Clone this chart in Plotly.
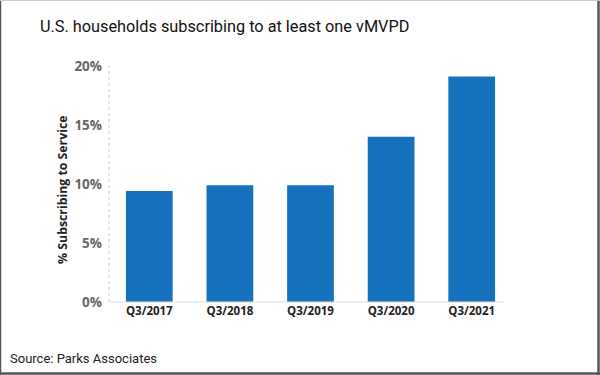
import plotly.graph_objects as go

categories = ["Q3/2017", "Q3/2018", "Q3/2019", "Q3/2020", "Q3/2021"]
values = [9.4, 9.9, 9.9, 14.0, 19.1]
y_ticks = [0, 5, 10, 15, 20]
y_tick_labels = ["0%", "5%", "10%", "15%", "20%"]

W, H = 600, 375
L, R, T, B = 109, 88, 66, 73
pw, ph = W - L - R, H - T - B

def px(x):
    return (x - L) / pw

def py(y):
    return (H - B - y) / ph

fig = go.Figure(go.Bar(x=categories, y=values, marker=dict(color="#1772BD", line=dict(width=0)),
                       hoverinfo="skip"))

fig.update_layout(
    width=W, height=H,
    margin=dict(l=L, r=R, t=T, b=B),
    plot_bgcolor="white", paper_bgcolor="white",
    bargap=0.42,
    showlegend=False,
    title=dict(text="U.S. households subscribing to at least one vMVPD",
               x=40 / W, xanchor="left", xref="container",
               y=1 - 26 / H, yanchor="middle", yref="container",
               font=dict(family="Roboto", size=16.3, color="#111")),
    xaxis=dict(showgrid=False, showline=False, ticks="", zeroline=False,
               tickfont=dict(family="Open Sans", size=11.5, color="#222", weight="bold"),
               range=[-0.5, 4.5]),
    yaxis=dict(range=[0, 20], tickvals=y_ticks, ticktext=y_tick_labels,
               showgrid=False, zeroline=False, showline=False, ticks="",
               ticklabelstandoff=6,
               tickfont=dict(family="Open Sans", size=13.5, color="#666", weight="bold")),
    shapes=[
        dict(type="line", xref="paper", yref="paper", x0=0, x1=0, y0=0, y1=1,
             line=dict(color="#c8c8c8", width=1, dash="dot")),
        dict(type="line", xref="paper", yref="paper", x0=0, x1=px(503), y0=0, y1=0,
             line=dict(color="#dddddd", width=1)),
        # frame
        dict(type="line", xref="paper", yref="paper", x0=px(0.5), x1=px(0.5), y0=py(0), y1=py(375),
             line=dict(color="#555", width=1.5)),
        dict(type="line", xref="paper", yref="paper", x0=px(598.5), x1=px(598.5), y0=py(0), y1=py(375),
             line=dict(color="#555", width=2.5)),
        dict(type="line", xref="paper", yref="paper", x0=px(0), x1=px(600), y0=py(373.5), y1=py(373.5),
             line=dict(color="#555", width=2.5)),
        dict(type="line", xref="paper", yref="paper", x0=px(0), x1=px(600), y0=py(0.5), y1=py(0.5),
             line=dict(color="#cccccc", width=1)),
    ],
    annotations=[
        dict(text="% Subscribing to Service", textangle=-90, showarrow=False,
             xref="paper", yref="paper", x=px(62), y=py(190), xanchor="center", yanchor="middle",
             font=dict(family="Open Sans", size=12.3, color="#222", weight="bold")),
        dict(text="Source: Parks Associates", showarrow=False,
             xref="paper", yref="paper", x=px(8), y=py(358), xanchor="left", yanchor="middle",
             font=dict(family="Roboto", size=13, color="#222")),
    ],
)

fig.write_html("out.html", config={"displayModeBar": False},
               post_script="document.body.style.margin='0';")
